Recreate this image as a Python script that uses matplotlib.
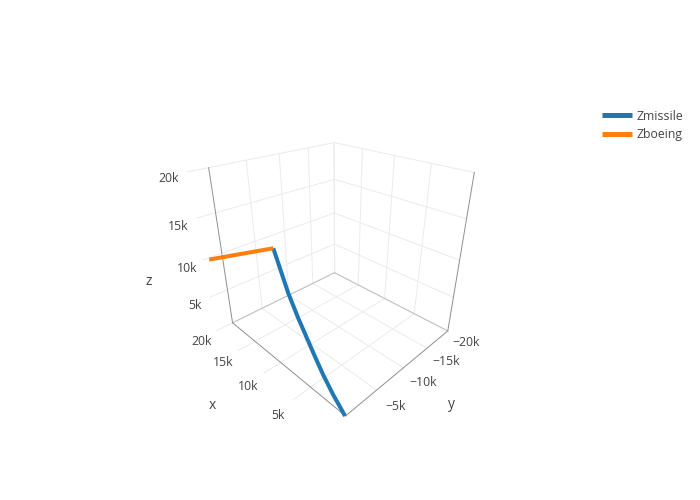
import matplotlib
matplotlib.use('Agg')
import matplotlib.pyplot as plt
from matplotlib.lines import Line2D

plt.rcParams['font.family'] = ['Open Sans', 'DejaVu Sans']

x_ticks = [5000, 10000, 15000, 20000]
y_ticks = [-5000, -10000, -15000, -20000]
z_ticks = [5000, 10000, 15000, 20000]
x_labels = ['5k', '10k', '15k', '20k']
y_labels = ['\u22125k', '\u221210k', '\u221215k', '\u221220k']
z_labels = ['5k', '10k', '15k', '20k']

missile_x = [30, 1270, 2410, 4570, 6450, 8620, 10570, 13220, 15440, 17310]
missile_y = [45, -425, -810, -1535, -2170, -2900, -3555, -4445, -5190, -5820]
missile_z = [0, 140, 330, 1040, 1920, 3060, 4090, 5820, 7980, 9760]

boeing_x = [17310, 19600]
boeing_y = [-5820, 2000]
boeing_z = [9760, 10000]

fig = plt.figure(figsize=(7, 5), dpi=100)
ax = fig.add_axes([0.1 + 12.2 / 700, -13.4 / 500, 500 / 700, 1], projection='3d')
ax.set_xlim(0, 20000, view_margin=0)
ax.set_ylim(-20000, 0, view_margin=0)
ax.set_zlim(0, 20000, view_margin=0)
# camera found by fitting the box corners
ax.view_init(27.767, 135.138, -0.205)
ax.set_proj_type('persp', focal_length=0.144)
ax.set_box_aspect((1, 0.9, 0.99), zoom=0.574)
ax.set_axis_off()
ax.computed_zorder = False

grid_c = '#ebebeb'
edge_c = '#8f8f8f'
back_c = '#bdbdbd'

# walls and floor
for v in x_ticks:
    ax.plot([v, v], [-20000, 2500], [0, 0], color=grid_c, lw=0.7, zorder=1)
    ax.plot([v, v], [-20000, -20000], [0, 20000], color=grid_c, lw=0.7, zorder=1)
for v in y_ticks:
    ax.plot([0, 20000], [v, v], [0, 0], color=grid_c, lw=0.7, zorder=1)
    ax.plot([20000, 20000], [v, v], [0, 20000], color=grid_c, lw=0.7, zorder=1)
for v in z_ticks:
    ax.plot([20000, 20000], [-20000, 2500], [v, v], color=grid_c, lw=0.7, zorder=1)
    ax.plot([0, 20000], [-20000, -20000], [v, v], color=grid_c, lw=0.7, zorder=1)
ax.plot([20000, 20000], [-20000, -20000], [0, 20000], color=grid_c, lw=0.7, zorder=1)

# box edges
ax.plot([0, 20000], [0, 0], [0, 0], color=edge_c, lw=0.7, zorder=2)
ax.plot([0, 0], [0, -20000], [0, 0], color=edge_c, lw=0.7, zorder=2)
ax.plot([20000, 20000], [0, -20000], [0, 0], color=back_c, lw=0.7, zorder=2)
ax.plot([0, 20000], [-20000, -20000], [0, 0], color=back_c, lw=0.7, zorder=2)
ax.plot([20000, 20000], [0, 0], [0, 20000], color=edge_c, lw=0.7, zorder=2)
ax.plot([0, 0], [-20000, -20000], [0, 20000], color=edge_c, lw=0.7, zorder=2)

ax.plot(missile_x, missile_y, missile_z, color='#1f77b4', lw=2.9, zorder=3,
        solid_capstyle='butt', solid_joinstyle='round')
ax.plot(boeing_x, boeing_y, boeing_z, color='#ff7f0e', lw=2.9, zorder=4, solid_capstyle='butt')

txt = dict(color='#444444', fontsize=8.8, ha='center', va='center')
for v, s in zip(x_ticks, x_labels):
    ax.text(v - 500, 5000, 0, s, **txt)
for v, s in zip(y_ticks, y_labels):
    ax.text(-2700, v + 300, 0, s, **txt)
for v, s in zip(z_ticks, z_labels):
    ax.text(20000, 4700, v - 300, s, **txt)

title = dict(color='#444444', fontsize=10, ha='center', va='center')
ax.text(10000, 9250, 0, 'x', **title)
ax.text(-6250, -9250, 0, 'y', **title)
ax.text(20000, 9200, 9800, 'z', **title)

handles = [Line2D([], [], color='#1f77b4', lw=3.6, solid_capstyle='butt'),
           Line2D([], [], color='#ff7f0e', lw=3.6, solid_capstyle='butt')]
fig.legend(handles, ['Zmissile', 'Zboeing'], loc='upper left', bbox_to_anchor=(0.86, 0.781), frameon=False,
           fontsize=8.8, labelcolor='#444444', handlelength=2.45, handletextpad=0.4, labelspacing=0.47,
           borderpad=0, borderaxespad=0)
fig.savefig('out.png', dpi=100)
